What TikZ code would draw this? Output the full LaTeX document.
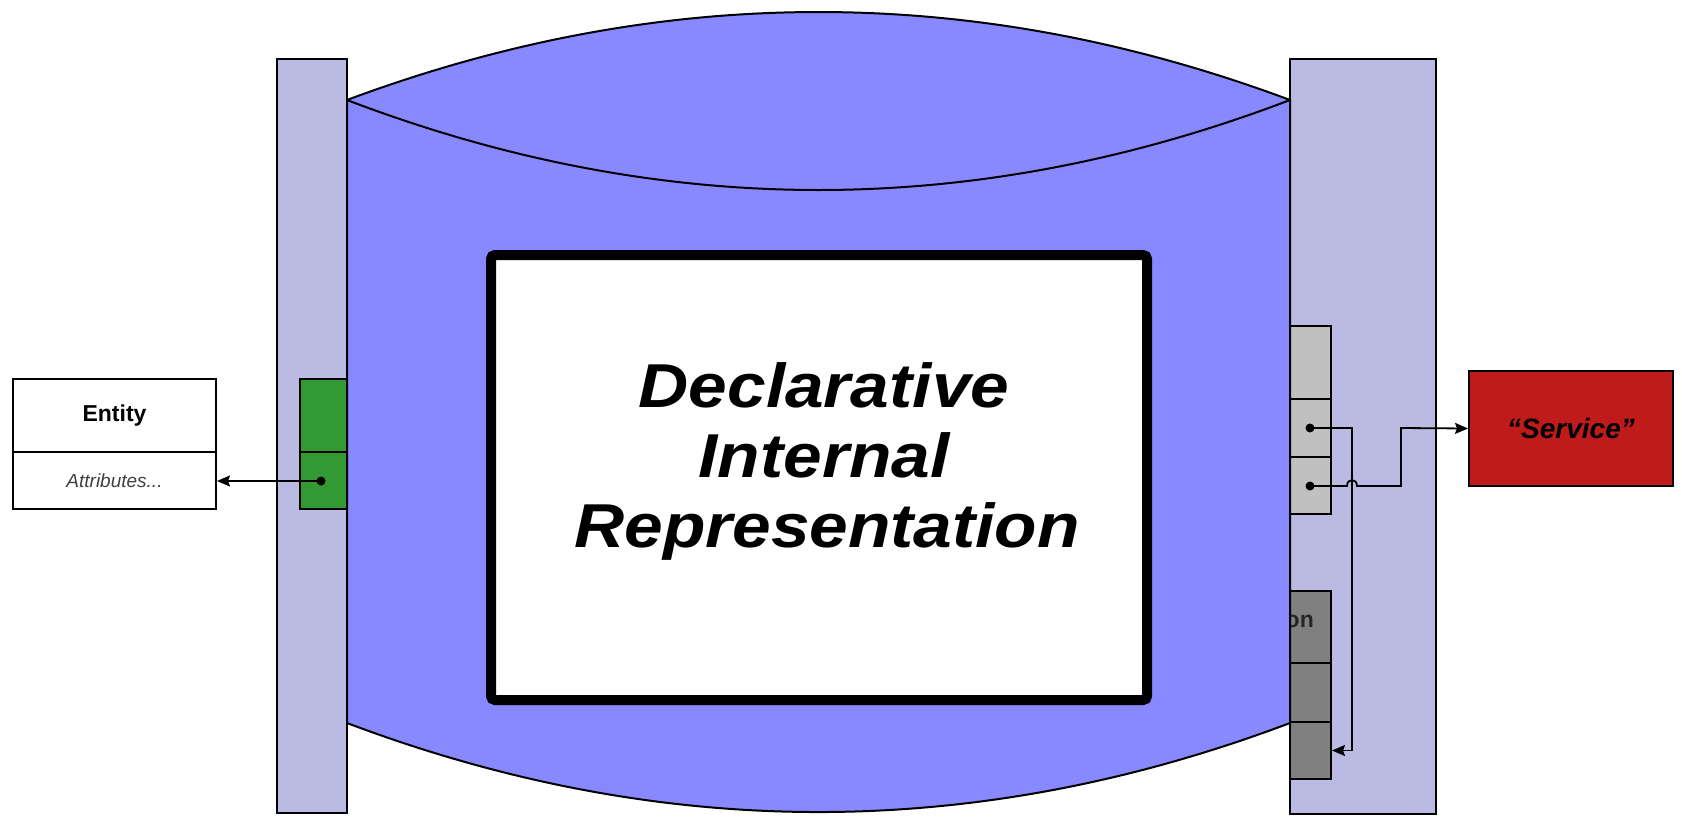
\documentclass[tikz,border=0pt]{standalone}
\usepackage{fontspec}
\usepackage{graphicx}
\setmainfont{Liberation Sans}
\usetikzlibrary{arrows.meta,calc}
\definecolor{shapeblue}{HTML}{8888FF}
\definecolor{bandfill}{HTML}{BABAE2}
\definecolor{cellgreen}{HTML}{339933}
\definecolor{cellred}{HTML}{C01B1B}
\definecolor{lightcell}{HTML}{C0C0C0}
\definecolor{darkcell}{HTML}{808080}
\definecolor{attrtext}{HTML}{404040}
\begin{document}
\begin{tikzpicture}[x=1pt,y=-1pt,
  cell/.style={draw=black,line width=2pt,inner sep=0pt},
  band/.style={draw=black,line width=2pt,fill=bandfill},
  conn/.style={draw=black,line width=1.8pt},
  arr/.style={conn,-{Stealth[length=13pt,width=11pt,inset=2pt]}},
  titlefont/.style={font=\fontsize{62}{70}\selectfont\bfseries\itshape,inner sep=0pt},
  dotr/.style={fill=black}
]
\useasboundingbox (0,0) rectangle (1682,822);
% side bands
\draw[band] (277,59) rectangle (347,813);
\draw[band] (1290,59) rectangle (1436,814);
% green cells
\node[cell,fill=cellgreen,minimum width=50pt,minimum height=73pt] (g1) at (325,415.5) {};
\node[cell,fill=cellgreen,minimum width=50pt,minimum height=57pt] (g2) at (325,480.5) {};
% light gray cells
\node[cell,fill=lightcell,minimum width=41pt,minimum height=73pt] (lg1) at (1310.5,362.5) {};
\node[cell,fill=lightcell,minimum width=41pt,minimum height=58pt] (lg2) at (1310.5,428) {};
\node[cell,fill=lightcell,minimum width=41pt,minimum height=57pt] (lg3) at (1310.5,485.5) {};
% dark gray cells
\node[cell,fill=darkcell,minimum width=41pt,minimum height=72pt] (dg1) at (1310.5,627) {};
\node[cell,fill=darkcell,minimum width=41pt,minimum height=59pt] (dg2) at (1310.5,692.5) {};
\node[cell,fill=darkcell,minimum width=41pt,minimum height=57pt] (dg3) at (1310.5,750.5) {};
\node[font=\fontsize{23}{27}\selectfont\bfseries,text=black!85,anchor=base east,inner sep=0pt] (optext) at (1314,627) {on};
% blue shape
\draw[fill=shapeblue,line width=2pt] (347,100) .. controls (661.3,-17.3) and (975.7,-17.3) .. (1290,100)
  -- (1290,723) .. controls (975.7,841.7) and (661.3,841.7) .. (347,723) -- cycle;
\draw[line width=2pt] (347,100) .. controls (661.3,220) and (975.7,220) .. (1290,100);
% central box
\node[draw=black,fill=white,line width=10pt,rounded corners=4pt,minimum width=656pt,minimum height=445pt,inner sep=0pt] (mainbox) at (819,477.5) {};
\node[titlefont,anchor=base] (t1) at (824,407) {\scalebox{1.12}[1]{Declarative}};
\node[titlefont,anchor=base] (t2) at (824,477) {\scalebox{1.12}[1]{Internal}};
\node[titlefont,anchor=base] (t3) at (827,547) {\scalebox{1.12}[1]{Representation}};
% entity
\node[cell,fill=white,minimum width=203pt,minimum height=73pt,font=\fontsize{23}{27}\selectfont\bfseries] (ent) at (114.5,415.5) {Entity};
\node[cell,fill=white,minimum width=203pt,minimum height=57pt,font=\fontsize{19}{23}\selectfont\itshape,text=attrtext] (attr) at (114.5,480.5) {Attributes...};
% service
\node[cell,fill=cellred,minimum width=204pt,minimum height=115pt,font=\fontsize{28}{32}\selectfont\bfseries\itshape] (svc) at (1571,428.5) {“Service”};
% dots and connectors
\coordinate (d1) at (321,481);
\coordinate (d2) at (1310,428);
\coordinate (d3) at (1310,486);
\coordinate (j1) at (1352,428);
\coordinate (j2) at (1401,428);
\draw[arr] (d1) -- (d1 -| attr.east);
\draw[arr] (d2) -- (j1) -- (j1 |- dg3.east) -- (dg3.east);
\draw[arr] (d3) -- (1347,486) .. controls (1347,478) and (1357,478) .. (1357,486) -- (j2 |- d3) -- (j2) -- (svc.west);
\fill[dotr] (d1) circle (4.5pt);
\fill[dotr] (d2) circle (4.5pt);
\fill[dotr] (d3) circle (4.5pt);
\end{tikzpicture}
\end{document}
